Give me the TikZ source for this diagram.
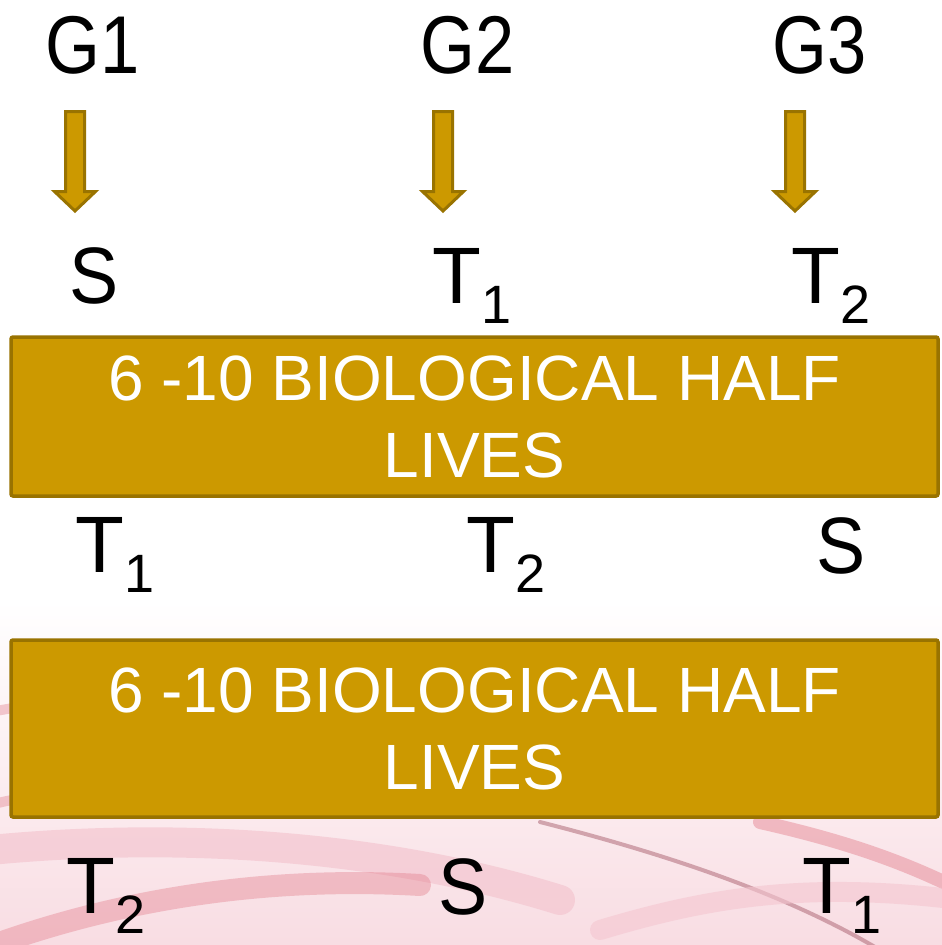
\documentclass[tikz,border=0pt]{standalone}
\usepackage{fontspec}
\setmainfont{Liberation Sans}
\newfontfamily\gfont[FakeStretch=0.86]{Liberation Sans}
\newfontfamily\sfontnarrow[FakeStretch=0.92]{Liberation Sans}
\definecolor{gold}{HTML}{CC9900}
\definecolor{golddark}{HTML}{997300}
\definecolor{pinkA}{HTML}{F4C6D0}
\definecolor{redA}{HTML}{E0707F}
\definecolor{maroonA}{HTML}{A05060}
\newcommand\subnum[1]{\raisebox{-20pt}{\fontsize{54}{54}\selectfont #1}}
\begin{document}
\begin{tikzpicture}[x=1pt,y=-1pt,
  lbl/.style={inner sep=0, anchor=base west, font=\fontsize{80}{80}\selectfont},
  slbl/.style={inner sep=0, anchor=base, font=\sfontnarrow\fontsize{80}{80}\selectfont},
  glbl/.style={inner sep=0, anchor=base west, font=\gfont\fontsize{82}{82}\selectfont},
  halfbox/.style={draw=golddark, fill=gold, line width=3.5, rounded corners=2,
    text=white, align=center, inner sep=0, minimum width=927,
    font=\fontsize{64}{77}\selectfont},
  arr/.style={draw=golddark, fill=gold, line width=3, line join=miter},
  swirl/.style={line cap=round}]
\useasboundingbox (0,0) rectangle (942,945);
% background
\fill[white] (0,0) rectangle (942,945);
\shade[top color=white, bottom color=pinkA!60] (0,600) rectangle (942,945);
\draw[swirl, redA, opacity=.35, line width=10] (-10,712) .. controls (10,708) .. (30,705);
\draw[swirl, redA, opacity=.35, line width=10] (-10,805) .. controls (10,800) .. (30,798);
\draw[swirl, pinkA, opacity=.7, line width=30] (-10,850) .. controls (200,830) and (400,850) .. (560,900);
\draw[swirl, redA, opacity=.35, line width=22] (-20,950) .. controls (100,905) and (250,875) .. (420,885);
\draw[swirl, maroonA, opacity=.45, line width=4] (540,822) .. controls (650,850) and (780,890) .. (880,950);
\draw[swirl, redA, opacity=.4, line width=14] (760,822) .. controls (840,840) and (900,860) .. (960,890);
\draw[swirl, pinkA, opacity=.6, line width=20] (600,930) .. controls (700,900) and (800,880) .. (960,900);
% top labels
\node[glbl] (g1) at (45,73) {G1};
\node[glbl] (g2) at (420,73) {G2};
\node[glbl] (g3) at (772,73) {G3};
% arrows
\foreach \n/\x in {1/75,2/443,3/795}{
  \coordinate (ar\n) at (\x,110);
  \draw[arr] (ar\n) ++(-9.5,1.5) -- ++(19,0) -- ++(0,80) -- ++(11,0)
     -- ++(-20.5,19.5) -- ++(-20.5,-19.5) -- ++(11,0) -- cycle;
}
% row 1
\node[slbl] (r1a) at (94.5,303) {S};
\node[lbl] (r1b) at (432,303) {T\subnum{1}};
\node[lbl] (r1c) at (791,303) {T\subnum{2}};
% box 1
\node[halfbox, minimum height=159] (b1) at (474.5,416.5) {6 -10 BIOLOGICAL HALF\\LIVES};
% row 2
\node[lbl] (r2a) at (75,572) {T\subnum{1}};
\node[lbl] (r2b) at (466,572) {T\subnum{2}};
\node[slbl] (r2c) at (841.5,573) {S};
% box 2
\node[halfbox, minimum height=177] (b2) at (474.5,728.5) {6 -10 BIOLOGICAL HALF\\LIVES};
% row 3
\node[lbl] (r3a) at (66,913) {T\subnum{2}};
\node[slbl] (r3b) at (463.5,914) {S};
\node[lbl] (r3c) at (802,913) {T\subnum{1}};
\end{tikzpicture}
\end{document}
